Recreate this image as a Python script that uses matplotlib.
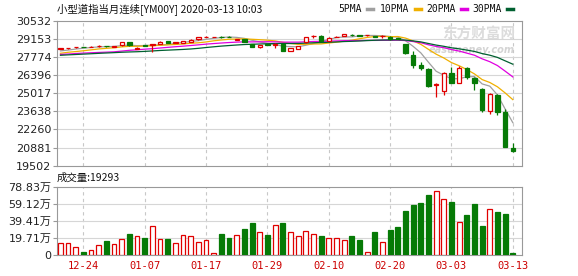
import numpy as np
import pandas as pd
import matplotlib
matplotlib.use("Agg")
import matplotlib.pyplot as plt
from matplotlib.lines import Line2D

# trading days shown
dates = ["12-19", "12-20", "12-23", "12-24", "12-26", "12-27", "12-30", "12-31",
         "01-02", "01-03", "01-06", "01-07", "01-08", "01-09", "01-10", "01-13",
         "01-14", "01-15", "01-16", "01-17", "01-20", "01-21", "01-22", "01-23",
         "01-24", "01-27", "01-28", "01-29", "01-30", "01-31", "02-03", "02-04",
         "02-05", "02-06", "02-07", "02-10", "02-11", "02-12", "02-13", "02-14",
         "02-17", "02-18", "02-19", "02-20", "02-21", "02-24", "02-25", "02-26",
         "02-27", "02-28", "03-02", "03-03", "03-04", "03-05", "03-06", "03-09",
         "03-10", "03-11", "03-12", "03-13"]

opens = [28400, 28430, 28530, 28560, 28550, 28600, 28630, 28560,
         28660, 28900, 28420, 28670, 28700, 28800, 29000, 28850,
         28850, 28950, 29130, 29320, 29310, 29330, 29320, 29100,
         29150, 28750, 28530, 28740, 28700, 28750, 28270, 28400,
         28900, 29360, 29410, 29000, 29300, 29370, 29470, 29430,
         29420, 29370, 29350, 29340, 29200, 28750, 27940, 27180,
         26870, 25680, 25190, 26540, 25830, 26920, 26210, 25350,
         23690, 24890, 23620, 20830]
highs = [28450, 28490, 28580, 28580, 28600, 28660, 28650, 28610,
         28920, 28920, 28530, 28700, 28800, 28970, 29020, 28920,
         29020, 29120, 29300, 29370, 29330, 29350, 29360, 29160,
         29180, 28770, 28710, 28760, 28830, 28780, 28470, 28640,
         29320, 29460, 29430, 29270, 29400, 29530, 29510, 29460,
         29460, 29390, 29420, 29370, 29220, 28800, 28240, 27430,
         26920, 25780, 26620, 27050, 27120, 27050, 26280, 25400,
         25070, 24970, 23800, 21210]
lows = [28380, 28410, 28500, 28520, 28530, 28560, 28580, 28520,
        28640, 28620, 28370, 28600, 28140, 28780, 28840, 28830,
        28830, 28930, 29110, 29300, 29300, 29240, 29280, 29060,
        28940, 28560, 28500, 28690, 28450, 28250, 28250, 28380,
        28880, 29250, 29010, 28980, 29280, 29350, 29400, 29360,
        29410, 29300, 29230, 29100, 29130, 28020, 26970, 26770,
        25520, 24760, 24890, 25780, 25780, 26110, 25270, 23620,
        23440, 23370, 20950, 20520]
closes = [28430, 28460, 28550, 28540, 28580, 28610, 28600, 28590,
          28900, 28700, 28450, 28640, 28760, 28950, 28860, 28900,
          29000, 29100, 29290, 29340, 29320, 29280, 29300, 29140,
          28960, 28580, 28690, 28720, 28740, 28270, 28450, 28620,
          29300, 29400, 29030, 29250, 29340, 29510, 29440, 29380,
          29450, 29320, 29400, 29170, 29150, 28070, 27180, 26920,
          25600, 25720, 26540, 25830, 26970, 26280, 25830, 23750,
          24970, 23620, 20950, 20620]

# closes before the visible window (needed for the moving averages)
prev_close = [27500, 27680, 27690, 27700, 27700, 27790, 27790, 28010, 28040, 27940,
              27830, 27770, 27880, 28070, 28130, 28170, 28060, 27790, 27510, 27660,
              27690, 28020, 27920, 27890, 27920, 28140, 28140, 28240, 28270]

# volume in 万
volume = [13.6, 13.6, 9.3, 3.5, 5.4, 11.6, 16.3, 12.8, 18.6, 24.4,
          22.0, 20.2, 33.8, 18.6, 18.6, 14.0, 22.9, 22.0, 15.1, 17.5,
          2.0, 24.4, 20.2, 23.3, 30.3, 37.2, 26.8, 23.3, 34.9, 37.2,
          26.8, 22.1, 27.9, 24.4, 22.1, 19.8, 19.8, 17.8, 22.1, 17.8,
          3.5, 26.8, 15.1, 29.1, 32.6, 51.6, 58.2, 60.5, 69.8, 74.5,
          65.2, 61.7, 38.4, 46.6, 59.4, 33.8, 53.5, 50.1, 47.7, 1.93]

price_ticks = [19502, 20881, 22260, 23638, 25017, 26396, 27774, 29153, 30532]
vol_ticks = [0, 19.71, 39.41, 59.12, 78.83]
vol_tick_labels = ["0", "19.71万", "39.41万", "59.12万", "78.83万"]
label_dates = ["12-24", "01-07", "01-17", "01-29", "02-10", "02-20", "03-03", "03-13"]

ma_windows = [5, 10, 20, 30]
ma_colors = ["#a0a0a0", "#f0b000", "#e000e0", "#006030"]
ma_names = ["5PMA", "10PMA", "20PMA", "30PMA"]

RED = "#e00000"
GREEN = "#067a06"
GRID = "#d6d6d6"

df = pd.DataFrame({"open": opens, "high": highs, "low": lows, "close": closes, "vol": volume})
x = np.arange(len(df))
up = df["close"] >= df["open"]

all_close = pd.Series(prev_close + closes)

fig = plt.figure(figsize=(5.78, 2.76), dpi=100)
ax = fig.add_axes([57 / 578, 1 - 165.7 / 276, 465 / 578, 144.8 / 276])
axv = fig.add_axes([57 / 578, 1 - 255 / 276, 465 / 578, 67.7 / 276])

tick_pos = [dates.index(d) for d in label_dates]

for a in (ax, axv):
    a.set_xlim(-0.45, 60.2)
    for s in a.spines.values():
        s.set_color("#999999")
        s.set_linewidth(0.8)
    a.set_xticks(tick_pos)
    for p in tick_pos:
        a.axvline(p, color="#c8c8c8", lw=0.8, ls=(0, (3, 3)), zorder=0)
    a.tick_params(axis="y", length=3, color="#999999", labelsize=8, labelcolor="#222222", pad=1)
    a.tick_params(axis="x", length=0)

# price panel
ax.set_ylim(price_ticks[0], price_ticks[-1])
ax.set_yticks(price_ticks)
ax.set_yticklabels([str(t) for t in price_ticks])
for t in price_ticks[1:-1]:
    ax.axhline(t, color=GRID, lw=0.8, zorder=0)
ax.set_xticklabels([])

for w, col in zip(ma_windows, ma_colors):
    ma = all_close.rolling(w, min_periods=1).mean().iloc[len(prev_close):].values
    ax.plot(x, ma, color=col, lw=0.9, zorder=2)

bw = 0.58
body_bottom = np.minimum(df["open"], df["close"])
body_h = np.maximum((df["close"] - df["open"]).abs(), 12)
ax.vlines(x[up], df["low"][up], df["high"][up], color=RED, lw=0.9, zorder=3)
ax.vlines(x[~up], df["low"][~up], df["high"][~up], color=GREEN, lw=0.9, zorder=3)
ax.bar(x[up], body_h[up], bottom=body_bottom[up], width=bw, facecolor="white",
       edgecolor=RED, lw=0.9, zorder=4)
ax.bar(x[~up], body_h[~up], bottom=body_bottom[~up], width=bw, facecolor=GREEN,
       edgecolor=GREEN, lw=0.9, zorder=4)

# watermark
ax.text(0.985, 0.91, "东方财富网", transform=ax.transAxes, ha="right", va="center",
        fontsize=10.5, fontweight="bold", color="#dcdcdc", family=["Noto Sans CJK SC"], zorder=1)
ax.text(0.985, 0.80, "eastmoney.com", transform=ax.transAxes, ha="right", va="center",
        fontsize=7, fontweight="bold", style="italic", color="#d4d4d4", zorder=1)

# volume panel
axv.set_ylim(0, vol_ticks[-1])
axv.set_yticks(vol_ticks)
axv.set_yticklabels(vol_tick_labels, family=["DejaVu Sans", "Noto Sans CJK SC"])
for t in vol_ticks[1:-1]:
    axv.axhline(t, color=GRID, lw=0.8, zorder=0)
vbw = 0.62
axv.bar(x[up], df["vol"][up], width=vbw, facecolor="white", edgecolor=RED, lw=0.9, zorder=3)
axv.bar(x[~up], df["vol"][~up], width=vbw, facecolor=GREEN, edgecolor=GREEN, lw=0.9, zorder=3)
axv.set_xticklabels(label_dates, color="#cc0000", fontsize=7.5, family="DejaVu Sans Mono")
axv.tick_params(axis="x", pad=4)

# header texts
fig.text(57 / 578, 1 - 10 / 276, "小型道指当月连续[YM00Y] 2020-03-13 10:03", ha="left", va="center",
         fontsize=7.5, color="#111111", family=["Noto Sans CJK SC", "DejaVu Sans"])
fig.text(57 / 578, 1 - 178 / 276, "成交量:19293", ha="left", va="center",
         fontsize=7.5, color="#111111", family=["Noto Sans CJK SC", "DejaVu Sans"])

leg_x = [338, 380, 426, 472]
for lx, name, col in zip(leg_x, ma_names, ma_colors):
    t = fig.text(lx / 578, 1 - 9 / 276, name, ha="left", va="center", fontsize=7,
                 color="#111111", family="DejaVu Sans Mono")
    dx = (len(name) * 6.2 + 4) / 578
    fig.add_artist(Line2D([lx / 578 + dx, lx / 578 + dx + 6 / 578], [1 - 9 / 276, 1 - 9 / 276],
                          transform=fig.transFigure, color=col, lw=2.5))

fig.savefig("out.png", dpi=100)
